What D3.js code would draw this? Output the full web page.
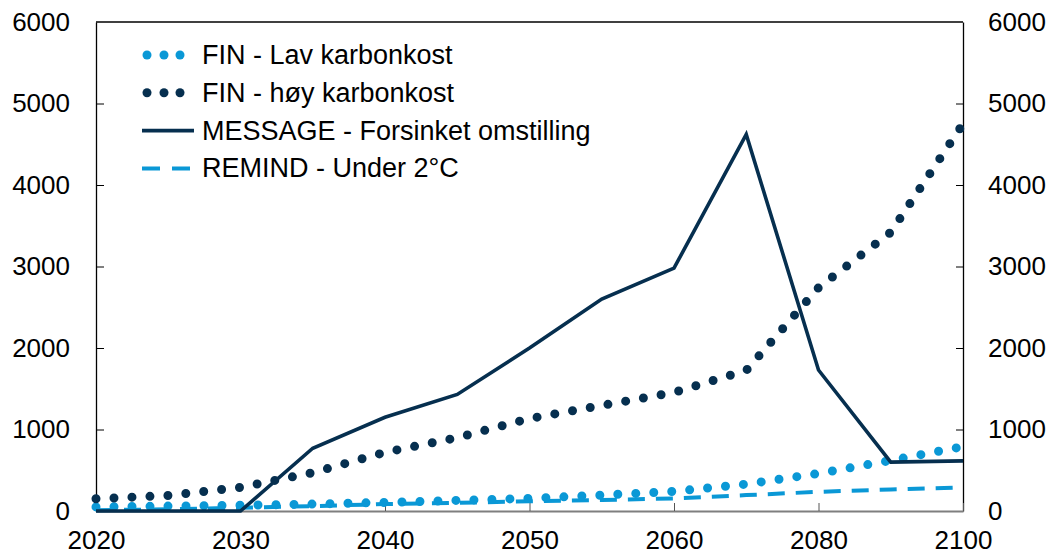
<!DOCTYPE html>
<meta charset="utf-8">
<script src="https://d3js.org/d3.v7.min.js"></script>
<style>
  body { margin: 0; background: #fff; }
  text { font-family: "Liberation Sans", Arial, sans-serif; fill: #000; }
</style>
<div id="my_dataviz"></div>
<script>

// categories on the x axis (Excel style category axis, uneven years)
var years = ["2020", "2025", "2030", "2035", "2040", "2045", "2050", "2055", "2060", "2070", "2080", "2090", "2100"];
var yearLabels = ["2020", "2030", "2040", "2050", "2060", "2080", "2100"];
var yTicks = [0, 1000, 2000, 3000, 4000, 5000, 6000];

// series values
var finLav = [50, 60, 70, 85, 105, 130, 155, 195, 240, 330, 460, 620, 790];
var finHoy = [150, 190, 290, 470, 720, 900, 1135, 1295, 1455, 1725, 2740, 3420, 4750];
var message = [0, 0, 0, 770, 1150, 1430, 2000, 2600, 2980, 4620, 1730, 600, 615];
var remind = [10, 20, 40, 60, 85, 100, 120, 135, 155, 195, 235, 265, 290];

var seriesNames = ["FIN - Lav karbonkost", "FIN - høy karbonkost", "MESSAGE - Forsinket omstilling", "REMIND - Under 2°C"];

var dark = "#062f4f", light = "#0a98d6";
var fontSize = "26px";

var margin = {top: 22, right: 89, bottom: 47, left: 96},
    width = 1052 - margin.left - margin.right,
    height = 558 - margin.top - margin.bottom;

var svg = d3.select("#my_dataviz")
  .append("svg")
    .attr("width", width + margin.left + margin.right)
    .attr("height", height + margin.top + margin.bottom)
  .append("g")
    .attr("transform", "translate(" + margin.left + "," + margin.top + ")");

var x = d3.scalePoint()
  .domain(years)
  .range([0, width]);

var y = d3.scaleLinear()
  .domain([0, 6000])
  .range([height, 0]);

// frame: top line
svg.append("line")
  .attr("x1", 0).attr("x2", width).attr("y1", 0).attr("y2", 0)
  .attr("stroke", "#000").attr("stroke-width", 1.3);

// left axis
var yLeft = svg.append("g")
  .call(d3.axisLeft(y).tickValues(yTicks).tickFormat(d3.format("d"))
    .tickSizeInner(-8).tickSizeOuter(0).tickPadding(26));
yLeft.select(".domain").attr("stroke", "#000").attr("stroke-width", 1.3);
yLeft.selectAll("text").style("font-size", fontSize).attr("font-family", "Liberation Sans, Arial, sans-serif");
yLeft.selectAll(".tick line").attr("stroke", "#000");
yLeft.selectAll(".tick").filter(function(d) { return d === 0 || d === 6000; }).select("line").remove();

// right axis
var yRight = svg.append("g")
  .attr("transform", "translate(" + width + ",0)")
  .call(d3.axisRight(y).tickValues(yTicks).tickFormat(d3.format("d"))
    .tickSizeInner(-7).tickSizeOuter(0).tickPadding(25));
yRight.select(".domain").attr("stroke", "#000").attr("stroke-width", 1.3);
yRight.selectAll("text").style("font-size", fontSize).attr("font-family", "Liberation Sans, Arial, sans-serif");
yRight.selectAll(".tick line").attr("stroke", "#000");
yRight.selectAll(".tick").filter(function(d) { return d === 0 || d === 6000; }).select("line").remove();

// x axis
var xAxis = svg.append("g")
  .attr("transform", "translate(0," + height + ")")
  .call(d3.axisBottom(x).tickValues(yearLabels).tickSizeInner(-8).tickSizeOuter(0).tickPadding(20));
xAxis.select(".domain").attr("stroke", "#7f7f7f").attr("stroke-width", 2);
xAxis.selectAll(".tick line").attr("stroke", "#555");
xAxis.selectAll("text").style("font-size", fontSize).attr("font-family", "Liberation Sans, Arial, sans-serif");

var line = d3.line()
  .x(function(d, i) { return x(years[i]); })
  .y(function(d) { return y(d); });

// REMIND dashed
svg.append("path")
  .datum(remind)
  .attr("d", line)
  .attr("fill", "none")
  .attr("stroke", light)
  .attr("stroke-width", 4)
  .attr("stroke-dasharray", "17 11");

// FIN lav dotted
svg.append("path")
  .datum(finLav)
  .attr("d", line)
  .attr("fill", "none")
  .attr("stroke", light)
  .attr("stroke-width", 9)
  .attr("stroke-linecap", "round")
  .attr("stroke-dasharray", "0 18");

// FIN høy dotted
svg.append("path")
  .datum(finHoy)
  .attr("d", line)
  .attr("fill", "none")
  .attr("stroke", dark)
  .attr("stroke-width", 9)
  .attr("stroke-linecap", "round")
  .attr("stroke-dasharray", "0 18");

// MESSAGE solid
svg.append("path")
  .datum(message)
  .attr("d", line)
  .attr("fill", "none")
  .attr("stroke", dark)
  .attr("stroke-width", 3.6)
  .attr("stroke-linejoin", "miter");

// legend
var legend = svg.append("g").attr("transform", "translate(46,33)");
var rowH = 37.8;

seriesNames.forEach(function(name, i) {
  var g = legend.append("g").attr("transform", "translate(0," + (i * rowH) + ")");
  if (i < 2) {
    [5, 22, 38].forEach(function(cx) {
      g.append("circle").attr("cx", cx).attr("cy", 0).attr("r", 4.5)
        .attr("fill", i === 0 ? light : dark);
    });
  } else if (i === 2) {
    g.append("line").attr("x1", 0).attr("x2", 52).attr("y1", 0).attr("y2", 0)
      .attr("stroke", dark).attr("stroke-width", 3.6);
  } else {
    g.append("line").attr("x1", 0).attr("x2", 48).attr("y1", 0).attr("y2", 0)
      .attr("stroke", light).attr("stroke-width", 4).attr("stroke-dasharray", "18 12");
  }
  g.append("text")
    .attr("x", 60)
    .attr("y", 9)
    .style("font-size", "27px")
    .text(name);
});

</script>
